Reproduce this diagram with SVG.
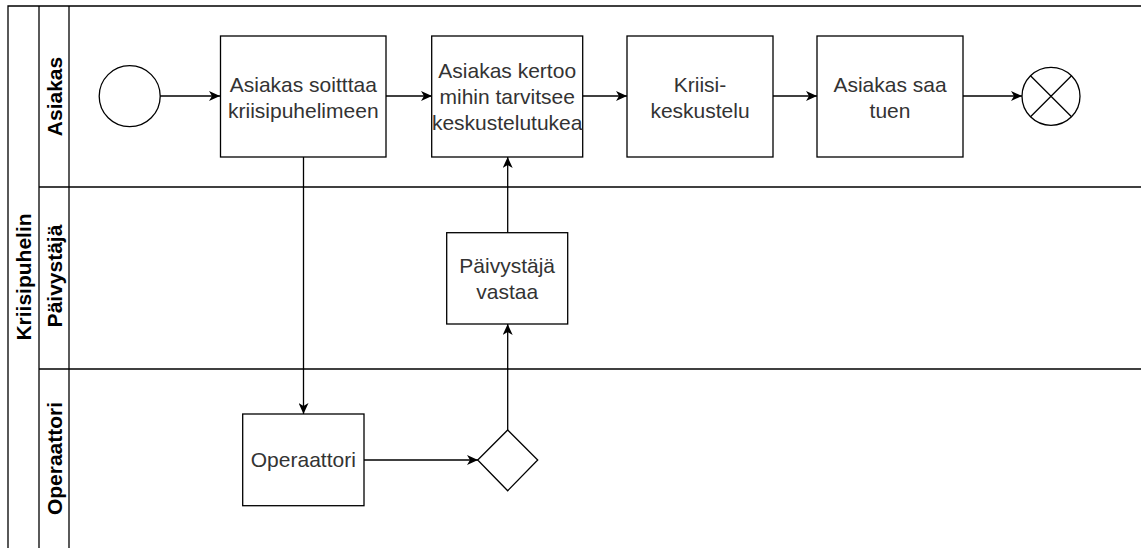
<svg xmlns="http://www.w3.org/2000/svg" width="1141" height="548" viewBox="0 0 1141 548">
  <style>
    .frame { fill: none; stroke: #000; stroke-width: 1.3; }
    .shape { fill: #fff; stroke: #000; stroke-width: 1.3; }
    .edge { fill: none; stroke: #000; stroke-width: 1.3; marker-end: url(#arrow); }
    .label { font-family: "Liberation Sans", Arial, sans-serif; font-size: 21px; fill: #333; text-anchor: middle; }
    .lane { font-family: "Liberation Sans", Arial, sans-serif; font-size: 21px; font-weight: bold; fill: #000; text-anchor: middle; }
  </style>
  <defs>
    <marker id="arrow" markerUnits="userSpaceOnUse" markerWidth="12" markerHeight="10" refX="11" refY="5" orient="auto">
      <path d="M0,0 L11,5 L0,10 L3,5 Z" fill="#000"/>
    </marker>
  </defs>
  <rect width="1141" height="548" fill="#fff"/>

  <!-- pool and lanes -->
  <g id="pool">
    <path class="frame" d="M1142,6 H8 V549"/>
    <line class="frame" x1="39" y1="6" x2="39" y2="549"/>
    <line class="frame" x1="69" y1="6" x2="69" y2="549"/>
    <line class="frame" x1="39" y1="187" x2="1142" y2="187"/>
    <line class="frame" x1="39" y1="369" x2="1142" y2="369"/>
    <text class="lane" transform="translate(31,277) rotate(-90)">Kriisipuhelin</text>
    <text class="lane" transform="translate(61.5,96.5) rotate(-90)">Asiakas</text>
    <text class="lane" transform="translate(61.5,276) rotate(-90)">Päivystäjä</text>
    <text class="lane" transform="translate(61.5,458.5) rotate(-90)">Operaattori</text>
  </g>

  <!-- connectors -->
  <g id="connectors">
    <line class="edge" x1="160" y1="96" x2="220" y2="96"/>
    <line class="edge" x1="386" y1="96" x2="432" y2="96"/>
    <line class="edge" x1="583" y1="96" x2="627" y2="96"/>
    <line class="edge" x1="773" y1="96" x2="817" y2="96"/>
    <line class="edge" x1="963" y1="96" x2="1022" y2="96"/>
    <line class="edge" x1="303.5" y1="157" x2="303.5" y2="414"/>
    <line class="edge" x1="364" y1="460" x2="478" y2="460"/>
    <line class="edge" x1="507.7" y1="430" x2="507.7" y2="324"/>
    <line class="edge" x1="507.7" y1="233" x2="507.7" y2="157"/>
  </g>

  <!-- nodes -->
  <g id="start">
    <circle class="shape" cx="129.7" cy="96.2" r="30.5"/>
  </g>
  <g id="soittaa">
    <rect class="shape" x="220.5" y="36" width="165.5" height="121"/>
    <text class="label" x="303.3" y="92">Asiakas soitttaa</text>
    <text class="label" x="303.3" y="117.5">kriisipuhelimeen</text>
  </g>
  <g id="kertoo">
    <rect class="shape" x="431.7" y="36" width="151" height="121"/>
    <text class="label" x="507.2" y="78">Asiakas kertoo</text>
    <text class="label" x="507.2" y="104">mihin tarvitsee</text>
    <text class="label" x="507.2" y="129.5">keskustelutukea</text>
  </g>
  <g id="keskustelu">
    <rect class="shape" x="627" y="36" width="146" height="121"/>
    <text class="label" x="700" y="92">Kriisi-</text>
    <text class="label" x="700" y="117.5">keskustelu</text>
  </g>
  <g id="tuki">
    <rect class="shape" x="817" y="36" width="146" height="121"/>
    <text class="label" x="890" y="92">Asiakas saa</text>
    <text class="label" x="890" y="117.5">tuen</text>
  </g>
  <g id="end">
    <circle class="shape" cx="1051" cy="96.3" r="29"/>
    <path class="frame" d="M1030.5,75.8 L1071.5,116.8 M1071.5,75.8 L1030.5,116.8"/>
  </g>
  <g id="paivystaja">
    <rect class="shape" x="446.7" y="232.7" width="121" height="91.3"/>
    <text class="label" x="507.2" y="273.3">Päivystäjä</text>
    <text class="label" x="507.2" y="298.8">vastaa</text>
  </g>
  <g id="operaattori">
    <rect class="shape" x="242.7" y="414" width="121.3" height="91.7"/>
    <text class="label" x="303.3" y="467.3">Operaattori</text>
  </g>
  <g id="gateway">
    <polygon class="shape" points="507.7,430 537.7,460 507.7,490.7 477.7,460"/>
  </g>
</svg>
